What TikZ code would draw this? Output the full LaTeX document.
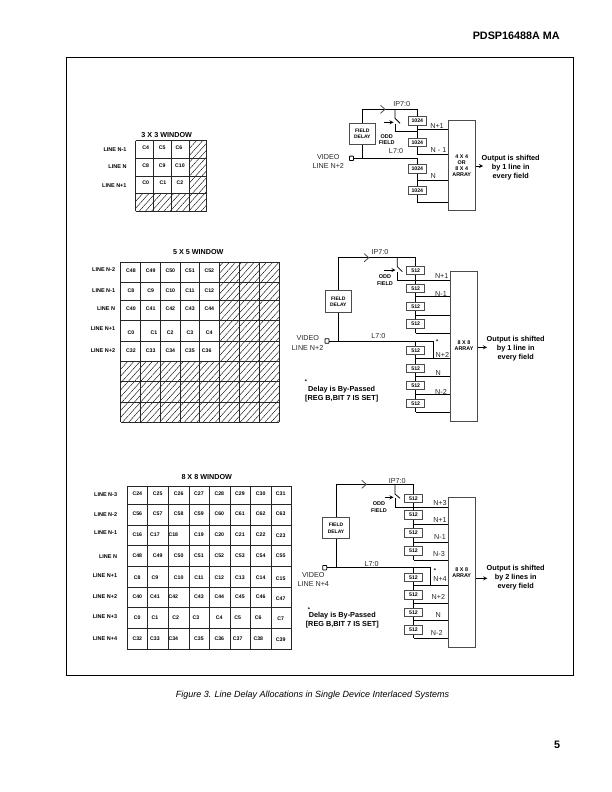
\documentclass[tikz,border=0pt]{standalone}
\usepackage{fontspec}
\setmainfont{Liberation Sans}
\usepackage{tikz}
\usetikzlibrary{patterns.meta}
\tikzset{
  wire/.style = {line width = 0.8pt},
  gridline/.style = {line width = 1pt, black!85},
  hatch/.style = {pattern = {Lines[angle = 48, distance = 4.6pt, line width = 0.4pt]}},
  cell/.style = {inner sep = 0pt, font = \fontsize{5.2}{6}\selectfont\bfseries},
  linelabel/.style = {inner sep = 0pt, anchor = east, font = \fontsize{5.5}{6}\selectfont\bfseries},
  wintitle/.style = {inner sep = 0pt, font = \fontsize{7.2}{8}\selectfont\bfseries},
  dlybox/.style = {draw = black!70, line width = 1pt, fill = white, minimum width = 18pt, minimum height = 8.5pt, inner sep = 0pt, font = \fontsize{5.2}{6}\selectfont\bfseries},
  fieldbox/.style = {draw = black!70, line width = 1pt, fill = white, minimum width = 26.5pt, minimum height = 21.5pt, inner sep = 0pt, align = center, font = \fontsize{5}{6.2}\selectfont\bfseries},
  arraybox/.style = {draw = black!70, line width = 1pt, fill = white, inner sep = 0pt, align = center, font = \fontsize{5.4}{6}\selectfont\bfseries},
  sig/.style = {inner sep = 0pt, font = \fontsize{7.2}{8}\selectfont, text = black!85},
  small/.style = {inner sep = 0pt, align = center, font = \fontsize{5.5}{6.6}\selectfont\bfseries},
  note/.style = {inner sep = 0pt, align = center, font = \fontsize{7.3}{9}\selectfont\bfseries},
  term/.style = {draw, line width = 0.8pt, minimum width = 4pt, minimum height = 4.4pt, inner sep = 0pt, rounded corners = 0.5pt},
  chev/.pic = {\draw [wire, black!70] (-2.5,-4) -- (2,0) -- (-2.5,4);}
}
\begin{document}
\begin{tikzpicture} [x = 1pt, y = -1pt, >=stealth]
                \useasboundingbox (0,0) rectangle (612,792);
                \node [anchor = east, inner sep = 0pt, font = \fontsize{10.8}{12}\selectfont\bfseries] (head) at (560,36) {PDSP16488A MA};
                \draw [line width = 0.8pt] (66,57) rectangle (573,675);
                \node [inner sep = 0pt, font = \fontsize{9}{10}\selectfont\itshape] (caption) at (312.5,695) {Figure 3. Line Delay Allocations in Single Device Interlaced Systems};
                \node [inner sep = 0pt, font = \fontsize{10.8}{12}\selectfont\bfseries] (pageno) at (557,745) {5};
                % 3 x 3 window
                \fill [white, hatch] (189,140.7) rectangle (206.7,193.7);
                \fill [white, hatch] (135.7,193.7) rectangle (206.7,211.3);
                \foreach \x in {135.7, 153.3, 171, 189, 206.7}
                  \draw [gridline] (\x,140.7) -- (\x,211.3);
                \foreach \y in {140.7, 158.3, 176, 193.7, 211.3}
                  \draw [gridline] (135.7,\y) -- (206.7,\y);
                \node [wintitle] (tita) at (166.7,135) {3 X 3 WINDOW};
                \foreach \y/\t/\n in {150/LINE N-1/1, 166.7/LINE N/2, 185.7/LINE N+1/3}
                  \node [linelabel] (la\n) at (126.7,\y) {\t};
                \foreach \x/\t in {145.7/C4, 162.3/C5, 179/C6}
                  \node [cell] (a\t) at (\x,147.3) {\t};
                \foreach \x/\t in {145.7/C8, 162.3/C9, 180/C10}
                  \node [cell] (a\t) at (\x,166) {\t};
                \foreach \x/\t in {145.7/C0, 163/C1, 180/C2}
                  \node [cell] (a\t) at (\x,182.3) {\t};
                % 5 x 5 window
                \fill [white, hatch] (219.3,262) rectangle (279,361.3);
                \fill [white, hatch] (120.7,361.3) rectangle (279,422.3);
                \foreach \x in {120.7, 140.3, 160, 180, 199.3, 219.3, 239, 259, 279}
                  \draw [gridline] (\x,262) -- (\x,422.3);
                \foreach \y in {262, 282.3, 300, 320.3, 341, 361.3, 381.7, 402, 422.3}
                  \draw [gridline] (120.7,\y) -- (279,\y);
                \node [wintitle] (titb) at (198.3,252.3) {5 X 5 WINDOW};
                \foreach \y/\t/\n in {269.7/LINE N-2/1, 290.7/LINE N-1/2, 308.3/LINE N/3, 328.3/LINE N+1/4, 351/LINE N+2/5}
                  \node [linelabel] (lb\n) at (115.3,\y) {\t};
                \foreach \x/\t in {131/C48, 150.7/C49, 170.3/C50, 190/C51, 209.3/C52}
                  \node [cell] (b\t) at (\x,270.7) {\t};
                \foreach \x/\t in {131/C8, 150.7/C9, 170.3/C10, 190/C11, 209.3/C12}
                  \node [cell] (b\t) at (\x,290.7) {\t};
                \foreach \x/\t in {131/C40, 150.7/C41, 170.3/C42, 190/C43, 209.3/C44}
                  \node [cell] (b\t) at (\x,308.7) {\t};
                \foreach \x/\t in {131/C0, 154/C1, 170.3/C2, 190/C3, 209.3/C4}
                  \node [cell] (b\t) at (\x,332.3) {\t};
                \foreach \x/\t in {131/C32, 150.7/C33, 170.3/C34, 190/C35, 206.7/C36}
                  \node [cell] (b\t) at (\x,350.3) {\t};
                % 8 x 8 window
                \foreach \x in {127, 147.7, 168.3, 189, 209.3, 230, 250.7, 271, 291.7}
                  \draw [gridline] (\x,486.7) -- (\x,649);
                \foreach \y in {486.7, 504.3, 525, 545.7, 566.3, 587, 607.7, 628.3, 649}
                  \draw [gridline] (127,\y) -- (291.7,\y);
                \node [wintitle] (titc) at (206.7,477.3) {8 X 8 WINDOW};
                \foreach \y/\t/\n in {494.7/LINE N-3/1, 515/LINE N-2/2, 532.7/LINE N-1/3, 557/LINE N/4, 576/LINE N+1/5, 596.7/LINE N+2/6, 617/LINE N+3/7, 638.3/LINE N+4/8}
                  \node [linelabel] (lc\n) at (117.3,\y) {\t};
                \foreach \x/\t in {137.3/C24, 157.7/C25, 178.7/C26, 199/C27, 219.3/C28, 240/C29, 260.7/C30, 280.7/C31}
                  \node [cell] (c\t) at (\x,493.3) {\t};
                \foreach \x/\t in {137.3/C56, 157.7/C57, 178.7/C58, 199/C59, 219.3/C60, 240/C61, 260.7/C62, 280.7/C63}
                  \node [cell] (c\t) at (\x,513.7) {\t};
                \foreach \x/\t in {137.3/C16, 155/C17, 173.3/C18, 199/C19, 219.3/C20, 240/C21, 260.7/C22}
                  \node [cell] (c\t) at (\x,534.3) {\t};
                \foreach \x/\t in {137.3/C48, 157.7/C49, 178.7/C50, 199/C51, 219.3/C52, 240/C53, 260.7/C54, 280.7/C55}
                  \node [cell] (c\t) at (\x,555.7) {\t};
                \foreach \x/\t in {137.3/C8, 155/C9, 178.7/C10, 199/C11, 219.3/C12, 240/C13, 260.7/C14}
                  \node [cell] (c\t) at (\x,577.3) {\t};
                \foreach \x/\t in {137.3/C40, 155/C41, 173.3/C42, 199/C43, 219.3/C44, 240/C45, 260.7/C46}
                  \node [cell] (c\t) at (\x,597) {\t};
                \foreach \x/\t in {137.3/C0, 155/C1, 175.7/C2, 196/C3, 219.3/C4, 237.7/C5, 258.3/C6}
                  \node [cell] (c\t) at (\x,617.3) {\t};
                \foreach \x/\t in {137.3/C32, 155/C33, 173.3/C34, 199/C35, 219.3/C36, 237.7/C37, 258.3/C38}
                  \node [cell] (c\t) at (\x,638.7) {\t};
                \foreach \y/\t in {535.7/C23, 578.3/C15, 598.3/C47, 618.3/C7, 640/C39}
                  \node [cell] (c\t) at (280.7,\y) {\t};
                % first delay block
                \node [fieldbox] (fda) at (362.3,133.8) {FIELD\\DELAY};
                \foreach \n/\y in {1/121.2, 2/142.7, 3/168.8, 4/190.7}
                  \node [dlybox] (da\n) at (417.3,\y) {1024};
                \node [arraybox, minimum width = 26.7pt, minimum height = 90pt] (arra) at (461.7,165.7) {4 X 4\\OR\\8 X 4\\ARRAY};
                \node [term] (tma) at (351.5,158.3) {};
                \coordinate (ta) at (417.3,109.3);
                \coordinate (swa) at (395,109.3);
                \coordinate (sla) at (395,124.3);
                \coordinate (jla) at (417.3,131.7);
                \coordinate (lna) at (417.3,158.3);
                \draw [wire] (fda.north) |- (ta) -- (da1.north);
                \draw [wire] (da1.south) -- (da2.north);
                \draw [wire] (tma.east) -- (lna) -- (da3.north);
                \draw [wire] (fda.south) -- (fda.south |- tma);
                \draw [wire] (da3.south) -- (da4.north);
                \draw [wire] (swa) -- ++(0,9) -- ++(5,5);
                \draw [wire] (sla) |- (jla);
                \draw [->, wire] (384,122.3) -- (393.5,122.3);
                \pic at (383,109.3) {chev};
                \foreach \n/\y in {1/129, 2/154, 3/180, 4/202.3} {
                  \coordinate (ja\n) at (417.3,\y);
                  \draw [wire] (ja\n) -- (ja\n -| arra.west);
                }
                \draw [wire] (da2.south) -- (ja2);
                \draw [wire] (da4.south) -- (ja4);
                \draw [->, wire] (arra.east |- 0,166) -- (483,166);
                \node [sig] (ipa) at (401.7,104) {IP7:0};
                \node [small] (odda) at (386.7,139.5) {ODD\\FIELD};
                \node [sig] (vida) at (328.3,156.7) {VIDEO};
                \node [sig] (lina) at (328.3,166) {LINE N+2};
                \node [sig] (l7a) at (396,151) {L7:0};
                \node [sig] (na1) at (437,126) {N+1};
                \node [sig] (na2) at (438.5,150) {N - 1};
                \node [sig] (na3) at (433.3,176) {N};
                \node [note] (outa) at (510.7,168) {Output is shifted\\by 1 line in\\every field};
                % second delay block
                \node [fieldbox] (fdb) at (338.3,301.5) {FIELD\\DELAY};
                \foreach \n/\y in {1/270.7, 2/288.4, 3/306.4, 4/324.2, 5/350.4, 6/368.4, 7/385.7, 8/403.4}
                  \node [dlybox] (db\n) at (415.7,\y) {512};
                \node [arraybox, minimum width = 26.7pt, minimum height = 150pt] (arrb) at (464,346) {8 X 8\\ARRAY};
                \node [term] (tmb) at (327,341) {};
                \coordinate (tb) at (415.7,257.7);
                \coordinate (swb) at (397.3,257.7);
                \coordinate (slb) at (397.3,272.3);
                \coordinate (lnb) at (415.7,341);
                \coordinate (byb) at (433.3,341);
                \draw [wire] (fdb.north) |- (tb) -- (db1.north);
                \draw [wire] (tmb.east) -- (byb) -- (byb |- 0,358);
                \draw [wire] (lnb) -- (db5.north);
                \draw [wire] (fdb.south) -- (fdb.south |- tmb);
                \draw [wire] (swb) -- (397.3,266.7) -- (402.3,271.7);
                \draw [wire] (slb) |- (arrb.west |- 0,280.7);
                \draw [->, wire] (384.3,270) -- (395.5,270);
                \pic at (366.7,257.7) {chev};
                \foreach \n/\y in {2/296.7, 3/315.3, 4/333.3, 6/358, 7/376.7, 8/394.3, 9/412.3} {
                  \coordinate (jb\n) at (415.7,\y);
                  \draw [wire] (jb\n) -- (jb\n -| arrb.west);
                }
                \draw [wire] (db1.south) -- (db2.north);
                \draw [wire] (db2.south) -- (db3.north);
                \draw [wire] (db3.south) -- (db4.north);
                \draw [wire] (db4.south) -- (jb4);
                \draw [wire] (db5.south) -- (db6.north);
                \draw [wire] (db6.south) -- (db7.north);
                \draw [wire] (db7.south) -- (db8.north);
                \draw [wire] (db8.south) -- (jb9);
                \draw [->, wire] (arrb.east |- 0,347.3) -- (487,347.3);
                \node [sig] (ipb) at (380,252.3) {IP7:0};
                \node [small] (oddb) at (385,280) {ODD\\FIELD};
                \node [sig] (vidb) at (307.7,338.3) {VIDEO};
                \node [sig] (linb) at (307.7,347.7) {LINE N+2};
                \node [sig] (l7b) at (378.3,335.7) {L7:0};
                \node [sig] (nb1) at (441.7,276) {N+1};
                \node [sig] (nb2) at (441,294) {N-1};
                \node [sig] (nb3) at (442.3,355) {N+2};
                \node [sig] (nb4) at (438.3,373.3) {N};
                \node [sig] (nb5) at (441,391.7) {N-2};
                \node [small] (stb) at (437.3,341.5) {*};
                \node [note] (outb) at (515.7,348.7) {Output is shifted\\by 1 line in\\every field};
                \node [small] (starb) at (306,382) {*};
                \node [note] (notb) at (341.7,394) {Delay is By-Passed\\{}[REG B,BIT 7 IS SET]};
                % third delay block
                \node [fieldbox] (fdc) at (336,528.2) {FIELD\\DELAY};
                \foreach \n/\y in {1/498.5, 2/514.9, 3/533.2, 4/550.9, 5/577.5, 6/595.2, 7/612.5, 8/630.2}
                  \node [dlybox] (dc\n) at (413.5,\y) {512};
                \node [arraybox, minimum width = 26.7pt, minimum height = 150pt] (arrc) at (461.7,572.7) {8 X 8\\ARRAY};
                \node [term] (tmc) at (324.7,567.7) {};
                \coordinate (tc) at (413.5,484.3);
                \coordinate (swc) at (395,484.3);
                \coordinate (slc) at (395,498.3);
                \coordinate (lnc) at (413.5,567.7);
                \coordinate (byc) at (430,567.7);
                \draw [wire] (fdc.north) |- (tc) -- (dc1.north);
                \draw [wire] (tmc.east) -- (byc) -- (byc |- 0,585.7);
                \draw [wire] (lnc) -- (dc5.north);
                \draw [wire] (fdc.south) -- (fdc.south |- tmc);
                \draw [wire] (swc) -- (395,494) -- (400,498.3);
                \draw [wire] (slc) |- (arrc.west |- 0,507.3);
                \draw [->, wire] (385,497.3) -- (393.5,497.3);
                \pic at (364.3,484.3) {chev};
                \foreach \n/\y in {2/524.3, 3/542.3, 4/560, 6/585.7, 7/603.3, 8/620.7, 9/638.3} {
                  \coordinate (jc\n) at (413.5,\y);
                  \draw [wire] (jc\n) -- (jc\n -| arrc.west);
                }
                \draw [wire] (dc1.south) -- (dc2.north);
                \draw [wire] (dc2.south) -- (dc3.north);
                \draw [wire] (dc3.south) -- (dc4.north);
                \draw [wire] (dc4.south) -- (jc4);
                \draw [wire] (dc5.south) -- (dc6.north);
                \draw [wire] (dc6.south) -- (dc7.north);
                \draw [wire] (dc7.south) -- (dc8.north);
                \draw [wire] (dc8.south) -- (jc9);
                \draw [->, wire] (arrc.east |- 0,578.3) -- (487.3,578.3);
                \node [sig] (ipc) at (397.3,481) {IP7:0};
                \node [small] (oddc) at (379,507) {ODD\\FIELD};
                \node [sig] (vidc) at (313.3,575) {VIDEO};
                \node [sig] (linc) at (313.3,584.3) {LINE N+4};
                \node [sig] (l7c) at (371.7,564) {L7:0};
                \node [sig] (nc1) at (440,503) {N+3};
                \node [sig] (nc2) at (440,520) {N+1};
                \node [sig] (nc3) at (440,536.7) {N-1};
                \node [sig] (nc4) at (439,554) {N-3};
                \node [sig] (nc5) at (440,579.3) {N+4};
                \node [sig] (nc6) at (438.3,597.3) {N+2};
                \node [sig] (nc7) at (438.3,615) {N};
                \node [sig] (nc8) at (436.7,633.3) {N-2};
                \node [small] (stc) at (435,570.5) {*};
                \node [note] (outc) at (515.7,577.7) {Output is shifted\\by 2 lines in\\every field};
                \node [small] (starc) at (309,609.5) {*};
                \node [note] (notc) at (342.3,620.3) {Delay is By-Passed\\{}[REG B,BIT 7 IS SET]};
            \end{tikzpicture}
\end{document}
